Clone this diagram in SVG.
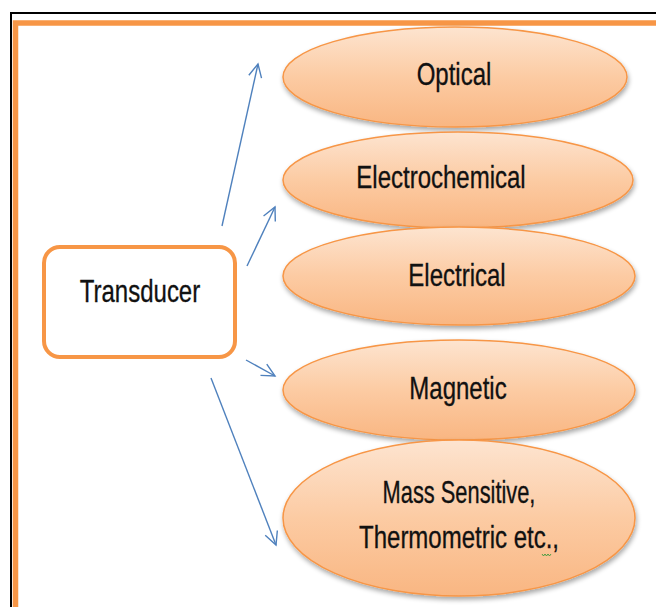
<svg xmlns="http://www.w3.org/2000/svg" width="656" height="607" viewBox="0 0 656 607">
<defs>
<linearGradient id="g" x1="0" y1="0" x2="0" y2="1">
<stop offset="0" stop-color="#FDE4D0"/>
<stop offset="0.5" stop-color="#FCCBA3"/>
<stop offset="1" stop-color="#F9B682"/>
</linearGradient>
<filter id="sh" x="-10%" y="-10%" width="120%" height="130%">
<feGaussianBlur in="SourceAlpha" stdDeviation="2.5"/>
<feOffset dx="1" dy="3" result="b"/>
<feComponentTransfer><feFuncA type="linear" slope="0.35"/></feComponentTransfer>
<feMerge><feMergeNode/><feMergeNode in="SourceGraphic"/></feMerge>
</filter>
<marker id="ah" viewBox="-14 -8 16 16" markerWidth="16" markerHeight="16" refX="0" refY="0" orient="auto" markerUnits="userSpaceOnUse">
<path d="M-13,-6.5 L0,0 L-13,6.5" fill="none" stroke="#4F81BD" stroke-width="1.4"/>
</marker>
</defs>
<style>
.ell{fill:url(#g);stroke:#F79646;stroke-width:1.5;filter:url(#sh)}
.t{font-family:"Liberation Sans",Arial,sans-serif;font-size:24px;fill:#111;text-anchor:middle;stroke:#111;stroke-width:0.25}
.c{stroke:#4F81BD;stroke-width:1.4;fill:none;marker-end:url(#ah)}
</style>
<rect width="656" height="607" fill="#ffffff"/>
<rect x="11" y="13" width="700" height="700" fill="none" stroke="#000" stroke-width="2"/>
<path d="M15.5,700 V23 H700" fill="none" stroke="#F79646" stroke-width="5.5"/>

<g id="transducer">
<rect x="44" y="247" width="191" height="110" rx="16" ry="16" fill="#fff" stroke="#F79646" stroke-width="4"/>
<text class="t" transform="translate(140,302) scale(1,1.28)">Transducer</text>
</g>

<g id="optical">
<ellipse class="ell" cx="455" cy="77" rx="172" ry="50"/>
<text class="t" transform="translate(454,85) scale(1,1.28)">Optical</text>
</g>
<g id="electrochemical">
<ellipse class="ell" cx="458" cy="180" rx="175" ry="48"/>
<text class="t" transform="translate(441,188) scale(1,1.28)">Electrochemical</text>
</g>
<g id="electrical">
<ellipse class="ell" cx="459" cy="276" rx="176" ry="49"/>
<text class="t" transform="translate(457,286) scale(1,1.28)">Electrical</text>
</g>
<g id="magnetic">
<ellipse class="ell" cx="459" cy="390" rx="176" ry="50"/>
<text class="t" transform="translate(458,399) scale(1,1.28)">Magnetic</text>
</g>
<g id="mass">
<ellipse class="ell" cx="459" cy="518" rx="176" ry="78"/>
<text class="t" transform="translate(459,503) scale(0.91,1.28)">Mass Sensitive,</text>
<text class="t" transform="translate(459,548) scale(1,1.28)">Thermometric etc.,</text>
<path d="M542,554 l1.5,2 l1.5,-2 l1.5,2 l1.5,-2 l1.5,2 l1.5,-2" fill="none" stroke="#3a9a3a" stroke-width="0.9"/>
</g>

<g id="connectors">
<line class="c" x1="222" y1="226" x2="258" y2="64"/>
<line class="c" x1="247" y1="266" x2="275" y2="207"/>
<line class="c" x1="246" y1="360" x2="275" y2="376"/>
<line class="c" x1="211" y1="378" x2="276" y2="545"/>
</g>
</svg>
